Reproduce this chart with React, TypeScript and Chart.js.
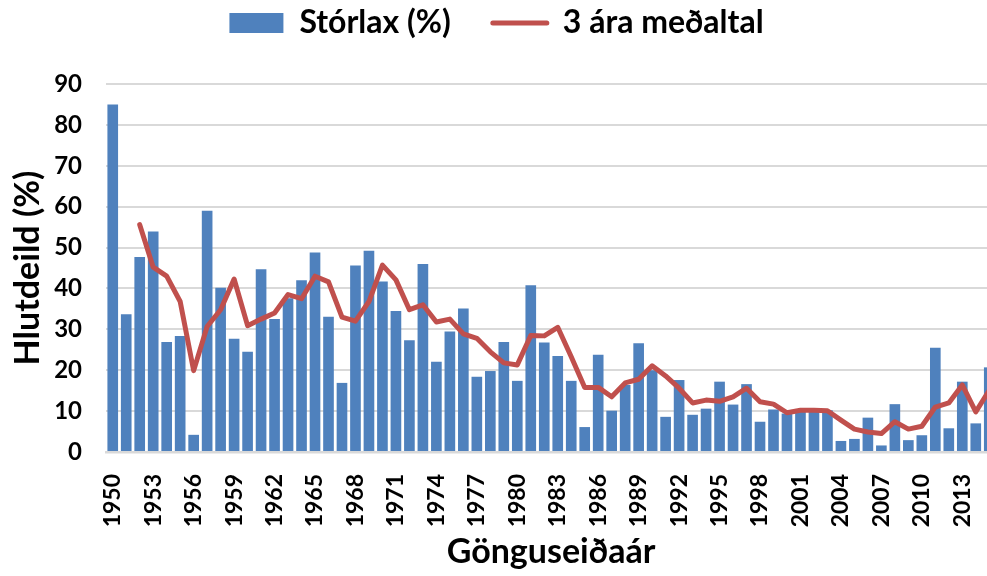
import React, { useEffect, useRef } from 'react';
import { Chart, registerables } from 'chart.js';

Chart.register(...registerables);

const FONT = 'Lato, "DejaVu Sans", sans-serif';

const years = [
  '1950', '1951', '1952', '1953', '1954', '1955', '1956', '1957', '1958', '1959',
  '1960', '1961', '1962', '1963', '1964', '1965', '1966', '1967', '1968', '1969',
  '1970', '1971', '1972', '1973', '1974', '1975', '1976', '1977', '1978', '1979',
  '1980', '1981', '1982', '1983', '1984', '1985', '1986', '1987', '1988', '1989',
  '1990', '1991', '1992', '1993', '1994', '1995', '1996', '1997', '1998', '1999',
  '2000', '2001', '2002', '2003', '2004', '2005', '2006', '2007', '2008', '2009',
  '2010', '2011', '2012', '2013', '2014', '2015',
];

const storlax = [
  85.0, 33.7, 47.7, 53.9, 26.9, 28.4, 4.2, 59.0, 40.2, 27.7,
  24.5, 44.7, 32.5, 37.6, 42.0, 48.8, 33.1, 16.9, 45.6, 49.2,
  41.7, 34.5, 27.3, 46.0, 22.1, 29.5, 35.1, 18.4, 19.8, 26.9,
  17.4, 40.8, 26.8, 23.5, 17.4, 6.1, 23.8, 10.1, 16.4, 26.6,
  20.0, 8.6, 17.6, 9.1, 10.6, 17.2, 11.6, 16.6, 7.4, 10.4,
  9.4, 10.2, 10.4, 10.2, 2.7, 3.2, 8.4, 1.6, 11.7, 2.9,
  4.1, 25.5, 5.8, 17.2, 7.0, 20.7,
];

const threeYearAvg = [
  null, null, 55.6, 45.2, 43.0, 36.8, 19.9, 30.7, 34.8, 42.3,
  30.9, 32.5, 34.0, 38.5, 37.5, 43.0, 41.6, 33.0, 32.0, 36.8,
  45.7, 42.1, 34.8, 36.0, 31.8, 32.5, 28.9, 27.8, 24.5, 21.8,
  21.3, 28.5, 28.4, 30.5, 23.3, 15.8, 15.8, 13.5, 16.9, 17.8,
  21.1, 18.6, 15.6, 12.0, 12.7, 12.4, 13.5, 15.6, 12.3, 11.7,
  9.6, 10.2, 10.2, 10.1, 7.8, 5.6, 4.9, 4.5, 7.4, 5.6,
  6.3, 11.0, 12.0, 16.4, 9.8, 15.1,
];

const shownTickLabels = [
  '1950', '1953', '1956', '1959', '1962', '1965', '1968', '1971', '1974', '1977',
  '1980', '1983', '1986', '1989', '1992', '1995', '1998', '2001', '2004', '2007',
  '2010', '2013',
];

export default function App() {
  const ref = useRef<HTMLCanvasElement>(null);

  useEffect(() => {
    if (!ref.current) return;
    const chart = new Chart(ref.current, {
      type: 'bar',
      data: {
        labels: years,
        datasets: [
          {
            type: 'bar',
            label: 'Stórlax (%)',
            data: storlax,
            backgroundColor: '#4F81BD',
            borderWidth: 0,
            barPercentage: 0.79,
            categoryPercentage: 1,
            order: 1,
          },
          {
            type: 'line',
            label: '3 ára meðaltal',
            data: threeYearAvg,
            borderColor: '#C0504D',
            backgroundColor: '#C0504D',
            borderWidth: 5,
            pointRadius: 0,
            tension: 0,
            order: 0,
            borderJoinStyle: 'round',
            borderCapStyle: 'round',
          },
        ],
      } as any,
      options: {
        responsive: false,
        animation: false,
        devicePixelRatio: 1,
        layout: { padding: { top: -35, left: -19, right: 19, bottom: 0 } },
        plugins: {
          tooltip: { enabled: false },
          legend: {
            position: 'top',
            labels: {
              usePointStyle: true,
              pointStyleWidth: 54,
              boxHeight: 20,
              padding: 42,
              color: '#000',
              font: { family: FONT, size: 32, weight: 'bold' },
              sort: (a: any, b: any) => a.datasetIndex - b.datasetIndex,
              generateLabels: (c: any) => {
                const items = (Chart.defaults.plugins.legend.labels as any).generateLabels(c);
                items.forEach((it: any) => {
                  if (it.datasetIndex === 0) {
                    it.pointStyle = 'rect';
                    it.lineWidth = 0;
                    it.fillStyle = '#4F81BD';
                  } else {
                    it.pointStyle = 'line';
                    it.lineWidth = 5;
                    it.strokeStyle = '#C0504D';
                    it.lineCap = 'round';
                  }
                });
                return items;
              },
            },
          },
          subtitle: {
            display: true,
            text: '',
            weight: 500,
            position: 'top',
            font: { size: 10 },
            padding: { top: 11, bottom: 12 },
          } as any,
        },
        scales: {
          x: {
            type: 'category',
            offset: true,
            grid: { display: false },
            border: { display: true, color: '#D9D9D9', width: 2.5 },
            ticks: {
              autoSkip: false,
              maxRotation: 90,
              minRotation: 90,
              padding: 14,
              color: '#000',
              font: { family: FONT, size: 23, weight: 'bold' },
              callback: (_v: any, i: number) =>
                shownTickLabels.includes(years[i]) ? years[i] : '',
            },
            title: {
              display: true,
              text: 'Gönguseiðaár',
              color: '#000',
              font: { family: FONT, size: 34, weight: 'bold' },
              padding: { top: 0, bottom: 4 },
            },
            afterFit: (s: any) => {
              s.height = 124;
            },
          },
          y: {
            min: 0,
            max: 90,
            ticks: {
              stepSize: 10,
              padding: 24,
              color: '#000',
              font: { family: FONT, size: 24, weight: 'bold' },
            },
            grid: { color: '#D9D9D9', lineWidth: 2, drawTicks: false },
            border: { display: false },
            title: {
              display: true,
              text: 'Hlutdeild (%)',
              color: '#000',
              font: { family: FONT, size: 34, weight: 'bold' },
              padding: { top: 27, bottom: 0 },
            },
            afterFit: (s: any) => {
              s.width = 125;
            },
          },
        },
      } as any,
    });
    return () => chart.destroy();
  }, []);

  return (
    <div
      style={{
        position: 'fixed',
        left: 0,
        top: 0,
        width: 987,
        height: 576,
        overflow: 'hidden',
        background: '#fff',
      }}
    >
      <canvas ref={ref} width={1031} height={576} style={{ display: 'block' }} />
    </div>
  );
}
